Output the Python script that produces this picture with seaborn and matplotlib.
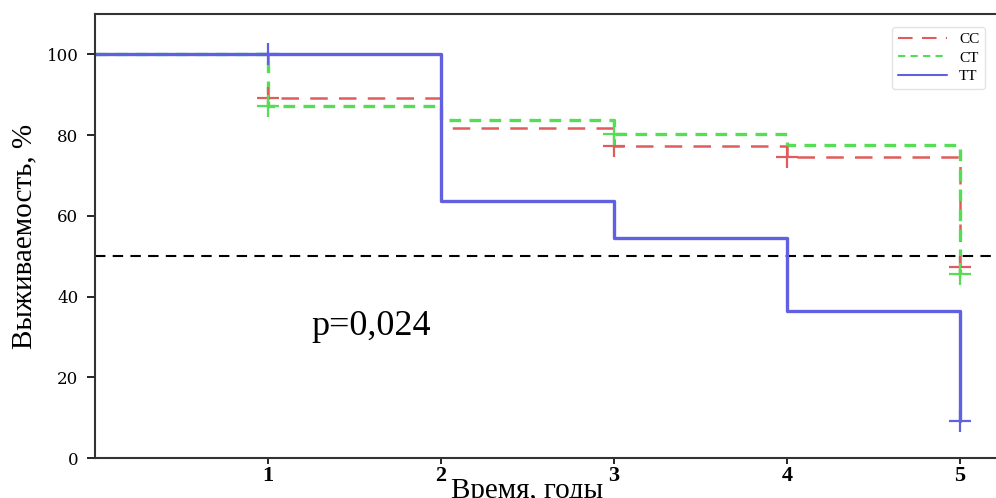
import numpy as np
import pandas as pd
import seaborn as sns
import matplotlib.pyplot as plt

# survival curves (step functions), years 0..5
years = [0, 1, 2, 3, 4, 5]
surv_cc = [100, 89.1, 81.8, 77.4, 74.5, 47.4]
surv_ct = [100, 87.1, 83.7, 80.2, 77.5, 45.6]
surv_tt = [100, 100, 63.6, 54.5, 36.4, 9.1]

# censored observations
cens_cc_x = [1, 3, 4, 5]
cens_cc_y = [89.1, 77.4, 74.5, 47.4]
cens_ct_x = [1, 3, 5]
cens_ct_y = [87.1, 80.2, 45.6]
cens_tt_x = [1, 5]
cens_tt_y = [100, 9.1]

groups = ["CC", "CT", "TT"]
colors = {"CC": "#e05c5c", "CT": "#55dd55", "TT": "#6060e0"}

sns.set_style("ticks")
plt.rcParams["font.family"] = ["Liberation Serif", "DejaVu Serif"]
plt.rcParams["text.color"] = "black"
plt.rcParams["axes.labelcolor"] = "black"
plt.rcParams["xtick.color"] = "black"
plt.rcParams["ytick.color"] = "black"

fig = plt.figure(figsize=(9.96, 4.98), dpi=100)
ax = fig.add_axes([95 / 996, 40 / 498, 908 / 996, 444 / 498])

curves = {"CC": surv_cc, "CT": surv_ct, "TT": surv_tt}
styles = {
    "CC": dict(lw=1.8, dashes=(7, 4.5)),
    "CT": dict(lw=2.4, dashes=(3.5, 2.5)),
    "TT": dict(lw=2.4),
}
for g in groups:
    df = pd.DataFrame({"t": years, "s": curves[g]})
    sns.lineplot(data=df, x="t", y="s", ax=ax, color=colors[g], drawstyle="steps-post",
                 estimator=None, sort=False, label=g, **styles[g])

cens = {"CC": (cens_cc_x, cens_cc_y), "CT": (cens_ct_x, cens_ct_y), "TT": (cens_tt_x, cens_tt_y)}
for g in groups:
    cx, cy = cens[g]
    sns.scatterplot(x=cx, y=cy, ax=ax, marker="+", s=260, color=colors[g],
                    linewidth=1.6, legend=False, zorder=3)

ax.axhline(50, color="black", ls=(0, (5, 3.5)), lw=1.5, zorder=1)

ax.text(1.25, 32.5, "p=0,024", fontsize=26, va="center", ha="left")

ax.set_xlim(0, 5.25)
ax.set_ylim(0, 110)
ax.set_xticks([1, 2, 3, 4, 5])
ax.set_xticklabels(["1", "2", "3", "4", "5"], fontsize=16, fontweight="bold")
ax.set_yticks([0, 20, 40, 60, 80, 100])
ax.set_yticklabels(["0", "20", "40", "60", "80", "100"], fontsize=12, family="DejaVu Serif")
ax.tick_params(axis="y", length=6, width=1.2, pad=6)
ax.tick_params(axis="x", length=4, width=1.2, pad=2)

ax.set_ylabel("Выживаемость, %", fontsize=21)
ax.set_xlabel("Время, годы", fontsize=21)
ax.xaxis.set_label_coords(0.476, -0.045)
ax.yaxis.set_label_coords(-0.064, 0.5)

for side in ["left", "bottom", "top"]:
    ax.spines[side].set_color("#333333")
    ax.spines[side].set_linewidth(1.5)
ax.spines["right"].set_visible(False)

leg = ax.legend(loc="upper right", bbox_to_anchor=(993 / 996, 1 - 19 / 498),
                bbox_transform=fig.transFigure, fontsize=11, frameon=True,
                handlelength=3.2, labelspacing=0.3, borderpad=0.4)
leg.get_frame().set_edgecolor("#dddddd")
for line in leg.get_lines():
    line.set_linewidth(1.5)

fig.savefig("out.png", dpi=100)
